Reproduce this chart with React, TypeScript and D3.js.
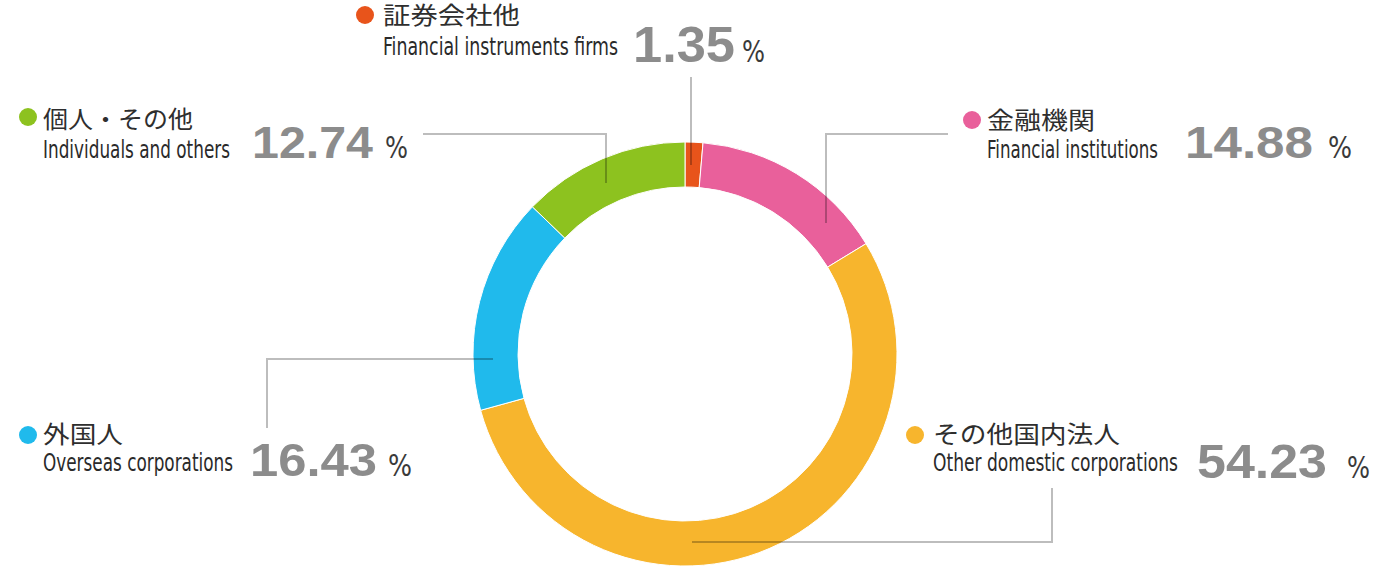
import React from "react";
import * as d3 from "d3";

const categoriesJa = ["証券会社他", "金融機関", "その他国内法人", "外国人", "個人・その他"];
const categoriesEn = [
  "Financial instruments firms",
  "Financial institutions",
  "Other domestic corporations",
  "Overseas corporations",
  "Individuals and others",
];
const shares = [1.35, 14.88, 54.23, 16.43, 12.74];
const sliceColors = ["#E8541B", "#E9609B", "#F7B52D", "#20BAEC", "#8DC21F"];

// label layout (annotation positions)
const labelLayout = [
  { dot: [365, 15], tx: 383, jaY: 24, jaLen: 137, enY: 55, enLen: 235, vx: 633, vY: 62, vLen: 102, vSize: 50, px: 742, pLen: 23, leader: [[691, 77], [691, 165]] },
  { dot: [972, 120], tx: 987, jaY: 129, jaLen: 108, enY: 158, enLen: 171, vx: 1185, vY: 158, vLen: 128, vSize: 45, px: 1328, pLen: 24, leader: [[948, 134], [826, 134], [826, 223]] },
  { dot: [915, 435], tx: 933, jaY: 443, jaLen: 187, enY: 471, enLen: 245, vx: 1197, vY: 478, vLen: 130, vSize: 49, px: 1347, pLen: 23, leader: [[1052, 488], [1052, 542], [692, 542]] },
  { dot: [28, 435], tx: 43, jaY: 443, jaLen: 80, enY: 471, enLen: 190, vx: 250, vY: 476, vLen: 127, vSize: 47, px: 388, pLen: 24, leader: [[267, 428], [267, 359], [493, 359]] },
  { dot: [28, 117], tx: 43, jaY: 128, jaLen: 150, enY: 158, enLen: 187, vx: 252, vY: 158, vLen: 121, vSize: 45, px: 385, pLen: 23, leader: [[423, 134], [606, 134], [606, 183]] },
];

const W = 1388;
const H = 568;
const CX = 685;
const CY = 354;
const R_OUT = 212;
const R_IN = 167;

export default function App() {
  const pie = d3.pie<number>().sort(null).value((d) => d);
  const arcs = pie(shares);
  const arcGen = d3.arc<d3.PieArcDatum<number>>().innerRadius(R_IN).outerRadius(R_OUT);
  const line = d3.line();
  const jaFont = "'Noto Sans CJK JP', 'Noto Sans', sans-serif";
  const enFont = "'Liberation Sans Narrow', 'DejaVu Sans Condensed', 'Roboto', sans-serif";
  const numFont = "'Liberation Sans', Arial, sans-serif";

  return (
    <svg
      width={W}
      height={H}
      style={{ position: "absolute", left: 0, top: 0, background: "#fff" }}
    >
      <g transform={`translate(${CX},${CY})`}>
        {arcs.map((a, i) => (
          <path key={i} d={arcGen(a) || ""} fill={sliceColors[i]} stroke="#fff" strokeWidth={1} />
        ))}
      </g>
      {labelLayout.map((l, i) => (
        <g key={i}>
          <path
            d={line(l.leader as [number, number][]) || ""}
            fill="none"
            stroke="rgba(0,0,0,0.26)"
            strokeWidth={2}
          />
          <circle cx={l.dot[0]} cy={l.dot[1]} r={9} fill={sliceColors[i]} />
          <text
            x={l.tx}
            y={l.jaY}
            fontFamily={jaFont}
            fontSize={24}
            fill="#2e2e2e"
            textLength={l.jaLen}
            lengthAdjust="spacingAndGlyphs"
          >
            {categoriesJa[i]}
          </text>
          <text
            x={l.tx}
            y={l.enY}
            fontFamily={enFont}
            fontSize={25}
            fill="#2a2a2a"
            textLength={l.enLen}
            lengthAdjust="spacingAndGlyphs"
          >
            {categoriesEn[i]}
          </text>
          <text
            x={l.vx}
            y={l.vY}
            fontFamily={numFont}
            fontWeight={700}
            fontSize={l.vSize}
            fill="#8c8c8c"
            textLength={l.vLen}
            lengthAdjust="spacingAndGlyphs"
          >
            {shares[i].toFixed(2)}
          </text>
          <text
            x={l.px}
            y={l.vY}
            fontFamily={enFont}
            fontSize={30}
            fill="#3a3a3a"
            textLength={l.pLen}
            lengthAdjust="spacingAndGlyphs"
          >
            %
          </text>
        </g>
      ))}
    </svg>
  );
}
